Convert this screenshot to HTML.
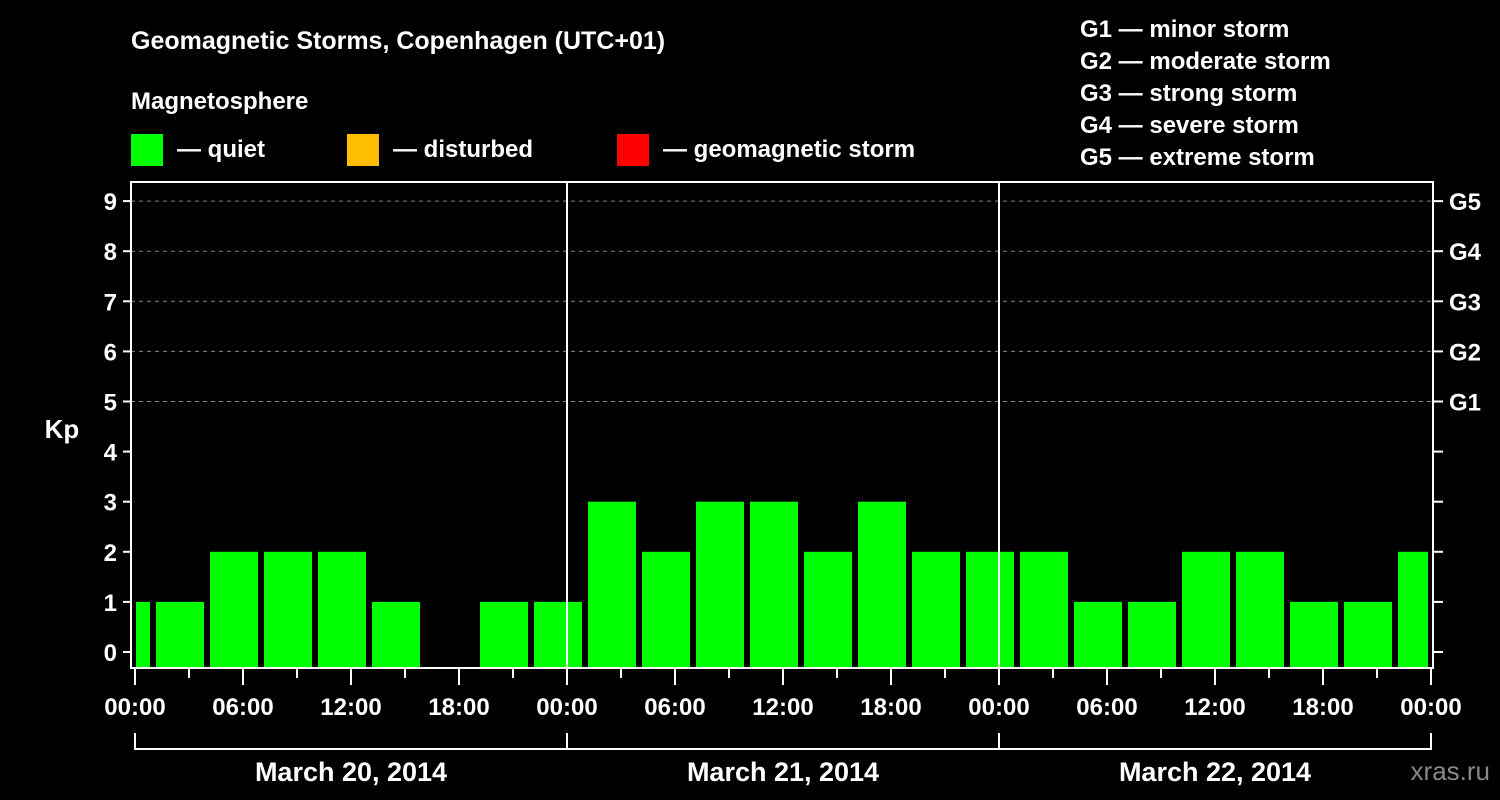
<!DOCTYPE html>
<html><head><meta charset="utf-8"><style>
body{margin:0;background:#000;}
svg{display:block;font-family:"Liberation Sans",Arial,sans-serif;font-weight:bold;}
</style></head><body>
<svg width="1500" height="800" viewBox="0 0 1500 800">
<rect x="0" y="0" width="1500" height="800" fill="#000"/>
<text x="131" y="49" fill="#fff" font-size="25">Geomagnetic Storms, Copenhagen (UTC+01)</text>
<text x="131" y="109" fill="#fff" font-size="24">Magnetosphere</text>
<g><rect x="131" y="134" width="32" height="32" fill="#00ff00"/><text x="177" y="157" fill="#fff" font-size="24">— quiet</text></g>
<g><rect x="347" y="134" width="32" height="32" fill="#ffbf00"/><text x="393" y="157" fill="#fff" font-size="24">— disturbed</text></g>
<g><rect x="617" y="134" width="32" height="32" fill="#ff0000"/><text x="663" y="157" fill="#fff" font-size="24">— geomagnetic storm</text></g>
<g fill="#fff" font-size="24">
<text x="1080" y="37">G1 — minor storm</text>
<text x="1080" y="69">G2 — moderate storm</text>
<text x="1080" y="101">G3 — strong storm</text>
<text x="1080" y="133">G4 — severe storm</text>
<text x="1080" y="165">G5 — extreme storm</text>
</g>
<text x="62" y="438" fill="#fff" font-size="26" text-anchor="middle">Kp</text>
<g id="grid"></g>
<g id="bars"></g>
<g id="axes"></g>
<text x="1490" y="780" fill="#888" font-size="26" font-weight="normal" text-anchor="end">xras.ru</text>
</svg>
<script>
const kpValues = [1, 1, 2, 2, 2, 1, null, 1, 1, 3, 2, 3, 3, 2, 3, 2, 2, 2, 1, 1, 2, 2, 1, 1, 2];
const dayLabels = ["March 20, 2014", "March 21, 2014", "March 22, 2014"];
const yTicks = [0,1,2,3,4,5,6,7,8,9];
const gLabels = ["G1","G2","G3","G4","G5"];
const hourLabels = ["00:00","06:00","12:00","18:00"];

const NS="http://www.w3.org/2000/svg";
const L=131,R=1433,T=182,B=668,X0=135,DAY=432;
const x = h => X0 + h*DAY/24;
const y = v => 652 - v*50.1;
function mk(tag,attrs,parent){const e=document.createElementNS(NS,tag);for(const k in attrs)e.setAttribute(k,attrs[k]);parent.appendChild(e);return e;}
const grid=document.getElementById('grid'),bars=document.getElementById('bars'),axes=document.getElementById('axes');
for(let v=5;v<=9;v++){
  const g=mk('line',{x1:L,x2:R,y1:y(v),y2:y(v),stroke:'#888','stroke-dasharray':'4,4','stroke-width':1},grid);
  
  
}
// bars: UTC 3h intervals shifted +1h; first starts at -2h
kpValues.forEach((v,i)=>{
  if(v===null) return;
  let s=x(-2+3*i)+3, e=x(1+3*i)-3;
  s=Math.max(s,X0+1); e=Math.min(e,x(72)-3);
  const r=mk('rect',{x:s,y:y(v),width:e-s,height:B-y(v),fill:v>=5?'#ff0000':(v>=4?'#ffbf00':'#00ff00')},bars);
  
  
});
// frame
const fr=mk('rect',{x:L,y:T,width:R-L,height:B-T,fill:'none',stroke:'#fff','stroke-width':2},axes);


[1,2].forEach(d=>{const l=mk('line',{x1:x(24*d),x2:x(24*d),y1:T,y2:B,stroke:'#fff','stroke-width':2},axes);
  
  });
yTicks.forEach(v=>{
  mk('line',{x1:123,x2:L,y1:y(v),y2:y(v),stroke:'#fff','stroke-width':2},axes);
  mk('line',{x1:R,x2:1443,y1:y(v),y2:y(v),stroke:'#fff','stroke-width':2},axes);
  const t=mk('text',{x:117,y:y(v)+9,fill:'#fff','font-size':24,'text-anchor':'end'},axes);
  t.textContent=v;
  
  
});
gLabels.forEach((g,i)=>{
  const t=mk('text',{x:1449,y:y(5+i)+9,fill:'#fff','font-size':24},axes);
  t.textContent=g;
  
  
});
for(let h=0;h<=72;h+=3){
  const major=h%6===0;
  mk('line',{x1:x(h),x2:x(h),y1:B,y2:major?685:678,stroke:'#fff','stroke-width':2},axes);
  if(major){
    const t=mk('text',{x:x(h),y:715,fill:'#fff','font-size':24,'text-anchor':'middle'},axes);
    t.textContent=hourLabels[(h/6)%4];
    
    
  }
}
mk('line',{x1:X0,x2:x(72),y1:749,y2:749,stroke:'#fff','stroke-width':2},axes);
for(let d=0;d<=3;d++) mk('line',{x1:x(24*d),x2:x(24*d),y1:733,y2:750,stroke:'#fff','stroke-width':2},axes);
dayLabels.forEach((s,d)=>{
  const t=mk('text',{x:x(24*d+12),y:781,fill:'#fff','font-size':27,'text-anchor':'middle'},axes);
  t.textContent=s;
  
  
});
</script>
</body></html>
